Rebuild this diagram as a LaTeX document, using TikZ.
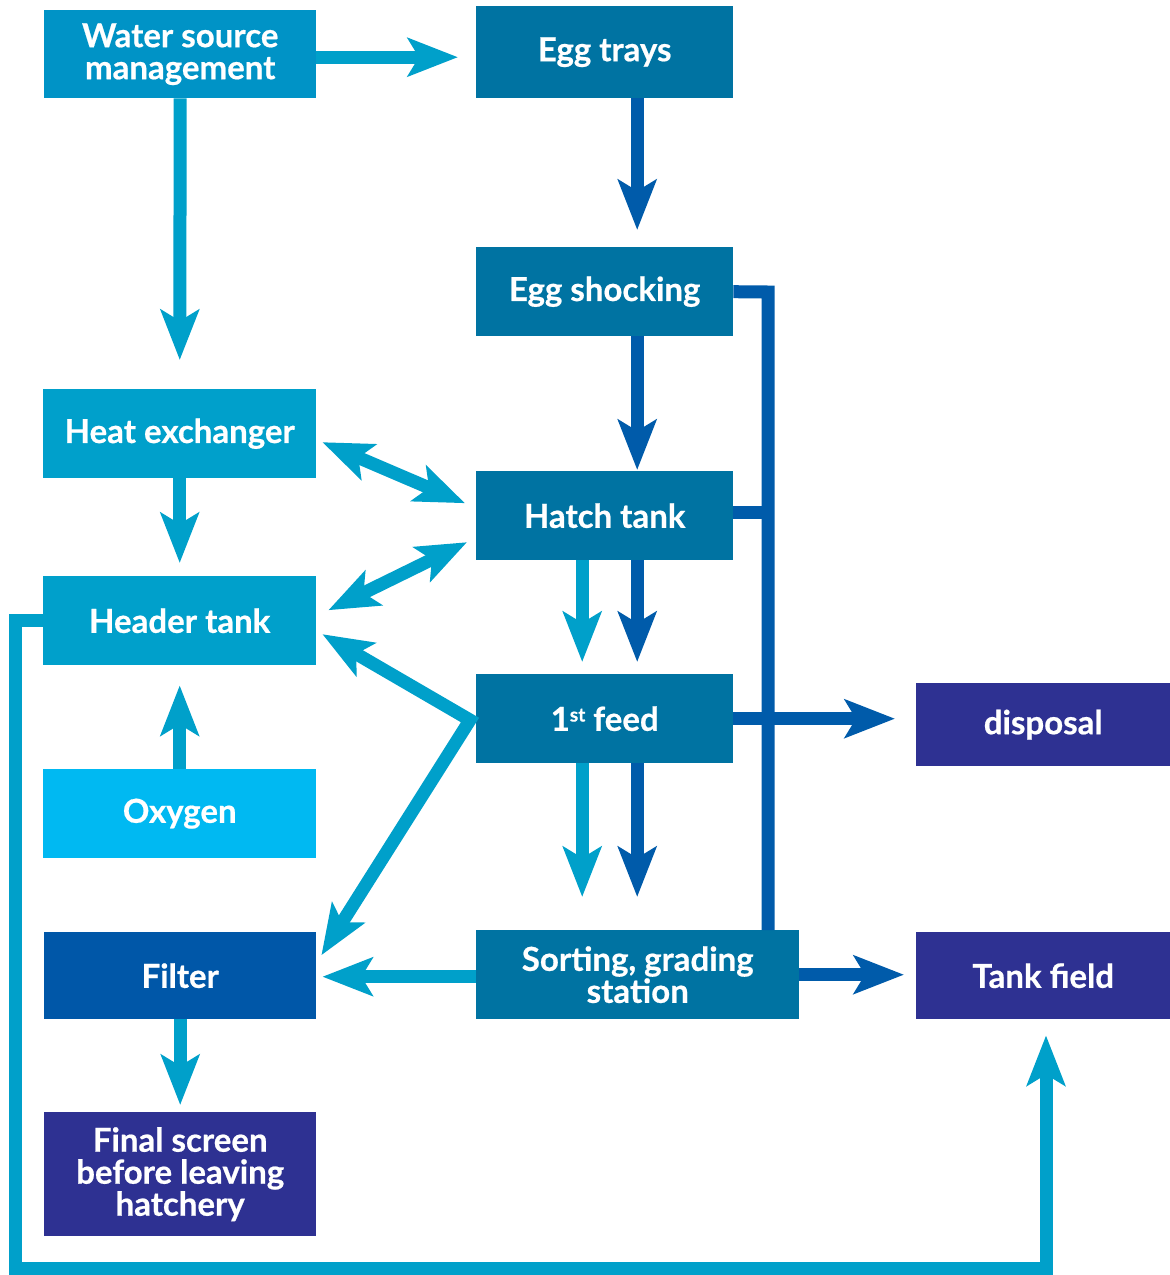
\documentclass[tikz,border=0pt]{standalone}
\usepackage{fontspec}
\setmainfont{Lato}[BoldFont={Lato Bold},BoldFeatures={FakeBold=0.6}]
\usetikzlibrary{arrows.meta,calc}
\definecolor{cWsm}{HTML}{0093C6}
\definecolor{cHeat}{HTML}{00A0CB}
\definecolor{cOxy}{HTML}{00B9F2}
\definecolor{cMid}{HTML}{0073A2}
\definecolor{cFilt}{HTML}{0057A8}
\definecolor{cPurp}{HTML}{2E3192}
\definecolor{cLA}{HTML}{00A0CA}
\definecolor{cDA}{HTML}{005BAA}
\begin{document}
\begin{tikzpicture}[x=1pt,y=-1pt,
  box/.style={anchor=north west,inner sep=0pt,text=white,align=center,
    font=\fontsize{33}{33}\selectfont\bfseries},
  la/.style={draw=cLA,line width=13pt,line join=miter},
  da/.style={draw=cDA,line width=13pt,line join=miter},
  tip/.style={-{Stealth[length=50pt,width=38pt,inset=11pt]}},
  tips/.style={{Stealth[length=50pt,width=38pt,inset=11pt]}-{Stealth[length=50pt,width=38pt,inset=11pt]}}]
\useasboundingbox (0,0) rectangle (1170,1275);
% boxes
\node[box,fill=cWsm,minimum width=272pt,minimum height=88pt] (wsm) at (44,10) {Water source\\[-1pt]management};
\node[box,fill=cMid,minimum width=257pt,minimum height=92pt] (egg) at (476,6) {Egg trays};
\node[box,fill=cMid,minimum width=257pt,minimum height=89pt] (shock) at (476,247) {Egg shocking};
\node[box,fill=cHeat,minimum width=273pt,minimum height=89pt] (heat) at (43,389) {Heat exchanger};
\node[box,fill=cMid,minimum width=257pt,minimum height=89pt] (hatch) at (476,471) {Hatch tank};
\node[box,fill=cHeat,minimum width=273pt,minimum height=89pt] (header) at (43,576) {Header tank};
\node[box,fill=cMid,minimum width=257pt,minimum height=89pt] (feed) at (476,674) {1\raisebox{0.55ex}{\fontsize{19}{19}\selectfont st} feed};
\node[box,fill=cPurp,minimum width=254pt,minimum height=83pt] (disp) at (916,683) {disposal};
\node[box,fill=cOxy,minimum width=273pt,minimum height=89pt] (oxy) at (43,769) {Oxygen};
\node[box,fill=cFilt,minimum width=272pt,minimum height=87pt] (filt) at (44,932) {Filter};
\node[box,fill=cMid,minimum width=323pt,minimum height=89pt] (sort) at (476,930) {Sorting, grading\\[-1pt]station};
\node[box,fill=cPurp,minimum width=254pt,minimum height=87pt] (tank) at (916,932) {Tank field};
\node[box,fill=cPurp,minimum width=272pt,minimum height=124pt] (final) at (44,1112) {Final screen\\[-1pt]before leaving\\[-1pt]hatchery};
% coordinates
\coordinate (bt) at (768,292);
\coordinate (lb) at (15,1268);
\coordinate (rb) at (1046,1268);
\coordinate (vx) at (470,720);
% light arrows
\draw[la,tip,shorten >=18pt] ([yshift=-3pt]wsm.east) -- ([yshift=-3pt]wsm.east -| egg.west);
\draw[la,tip,shorten >=29pt] (wsm.south) -- (heat.north);
\draw[la,tip,shorten >=13pt] (heat.south) -- (header.north);
\draw[la,tip,shorten >=20pt] (oxy.north) -- (header.south);
\draw[la,tips] ($(heat.east)+(6,8.5)$) -- ($(hatch.west)+(-11,-12.5)$);
\draw[la,tips] ($(header.east)+(12,-10.5)$) -- ($(hatch.west)+(-9,26.5)$);
\draw[la,tips] ($(header.east)+(6,13.5)$) -- (vx) -- ($(filt.east)+(5,-20.5)$);
\draw[la,tip,shorten >=12pt] ([xshift=-22.5pt]hatch.south) -- ([xshift=-22.5pt]hatch.south |- feed.north);
\draw[la,tip,shorten >=33pt] ([xshift=-22.5pt]feed.south) -- ([xshift=-22.5pt]feed.south |- sort.north);
\draw[la,tip,shorten >=6pt] ([yshift=-2pt]sort.west) -- ([yshift=-2pt]sort.west -| filt.east);
\draw[la,tip,shorten >=7pt] (filt.south) -- (final.north);
\draw[la,tip,shorten >=16pt] (header.west) -| (lb) -- (rb) -- (rb |- tank.south);
% dark arrows
\draw[da,tip,shorten >=17pt] ([xshift=32.5pt]egg.south) -- ([xshift=32.5pt]egg.south |- shock.north);
\draw[da,tip,shorten >=1pt] ([xshift=32.5pt]shock.south) -- ([xshift=32.5pt]shock.south |- hatch.north);
\draw[da,tip,shorten >=12pt] ([xshift=32.5pt]hatch.south) -- ([xshift=32.5pt]hatch.south |- feed.north);
\draw[da,tip,shorten >=33pt] ([xshift=32.5pt]feed.south) -- ([xshift=32.5pt]feed.south |- sort.north);
\draw[da] (shock.east) -- (bt) -- (bt |- sort.north);
\draw[da] ([yshift=3pt]hatch.east) -- ([yshift=3pt]hatch.east -| bt);
\draw[da,tip,shorten >=21pt] (feed.east) -- (feed.east -| disp.west);
\draw[da,tip,shorten >=12pt] (sort.east) -- (sort.east -| tank.west);
\end{tikzpicture}
\end{document}
